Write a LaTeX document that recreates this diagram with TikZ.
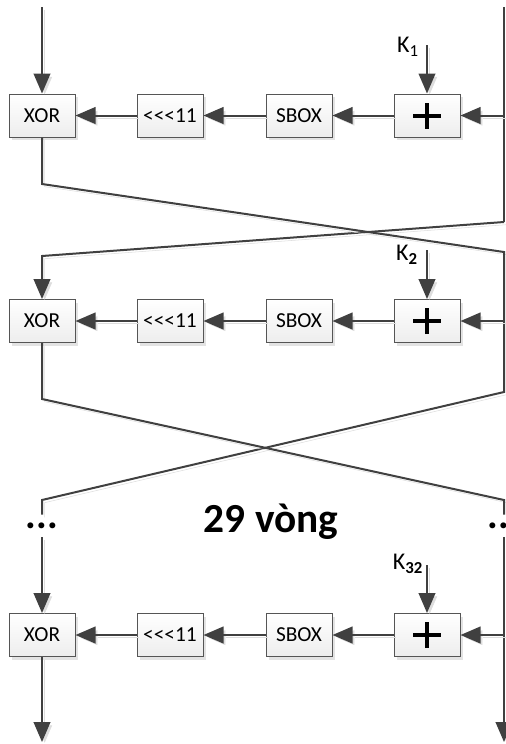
\documentclass[tikz,border=0pt]{standalone}
\usepackage{fontspec}
\setmainfont{Carlito}
\usetikzlibrary{arrows.meta,shadows}
\definecolor{ln}{HTML}{404040}
\definecolor{bd}{HTML}{555555}
\definecolor{sh}{HTML}{DDDDDD}
\begin{document}
\begin{tikzpicture}[x=0.75pt,y=-0.75pt,
  wire/.style={draw=ln, line width=1.5pt,
    preaction={draw=sh, transform canvas={xshift=2pt,yshift=-2pt}}},
  arr/.style={wire, -{Triangle[length=15pt,width=12.5pt]}},
  blk/.style={draw=bd, line width=0.75pt, top color=white, bottom color=gray!14,
    minimum width=49.5pt, minimum height=32.25pt, inner sep=0pt,
    font=\fontsize{16}{19}\selectfont,
    drop shadow={shadow xshift=2.5pt, shadow yshift=-2.5pt, fill=gray!22, opacity=1}},
  plusbox/.style={blk, path picture={
    \draw[line width=3pt, black] ([xshift=-10.5pt]path picture bounding box.center) -- ([xshift=10.5pt]path picture bounding box.center);
    \draw[line width=3pt, black] ([yshift=-9.75pt]path picture bounding box.center) -- ([yshift=9.75pt]path picture bounding box.center);}},
  klab/.style={font=\fontsize{18}{20}\selectfont, inner sep=0pt},
  dotsn/.style={font=\fontsize{30}{32}\selectfont\bfseries, inner sep=0pt, minimum height=16.5pt}]
\useasboundingbox (0,0) rectangle (506,744);

% row 1
\node[blk] (x1) at (42,115.5) {XOR};
\node[blk] (r1) at (170,115.5) {<{}<{}<11};
\node[blk] (s1) at (299,115.5) {SBOX};
\node[plusbox] (p1) at (427,115.5) {};
% row 2
\node[blk] (x2) at (42,321) {XOR};
\node[blk] (r2) at (170,321) {<{}<{}<11};
\node[blk] (s2) at (299,321) {SBOX};
\node[plusbox] (p2) at (427,321) {};
% row 3
\node[blk] (x3) at (42,635) {XOR};
\node[blk] (r3) at (170,635) {<{}<{}<11};
\node[blk] (s3) at (299,635) {SBOX};
\node[plusbox] (p3) at (427,635) {};

% key labels
\node[klab] (k1) at (408,47) {K\textsubscript{1}};
\node[klab] (k2) at (407,255) {K\textsubscript{\textbf{2}}};
\node[klab] (k3) at (408,564) {K\textsubscript{\textbf{32}}};
\coordinate (k1s) at (427,45);
\coordinate (k2s) at (427,250);
\coordinate (k3s) at (427,565);

% dots and text
\node[dotsn] (dl) at (42,526) {...};
\node[dotsn] (dr) at (504,526) {...};
\node[font=\fontsize{31}{36}\selectfont\bfseries, anchor=base] (t) at (271,532) {29 vòng};

% coordinates of wires
\coordinate (inL) at (42,7);
\coordinate (inR) at (504,7);
\coordinate (a1) at (42,184);
\coordinate (b1) at (504,252);
\coordinate (c1) at (504,222);
\coordinate (d1) at (42,256);
\coordinate (e1) at (504,115.5);
\coordinate (a2) at (42,399);
\coordinate (b2) at (504,500);
\coordinate (c2) at (504,392);
\coordinate (d2) at (42,500);
\coordinate (e2) at (504,321);
\coordinate (e3) at (504,635);
\coordinate (outL) at (42,742);
\coordinate (outR) at (504,742);

% row 1 flow
\draw[arr] (inL) -- (x1);
\draw[wire] (inR) -- (c1);
\draw[arr] (c1) -- (d1) -- (x2);
\draw[arr] (e1) -- (p1);
\draw[arr] (k1s) -- (p1);
\draw[arr] (p1) -- (s1);
\draw[arr] (s1) -- (r1);
\draw[arr] (r1) -- (x1);
\draw[wire] (x1) -- (a1) -- (b1) -- (c2) -- (d2) -- (dl);
% row 2 flow
\draw[arr] (e2) -- (p2);
\draw[arr] (k2s) -- (p2);
\draw[arr] (p2) -- (s2);
\draw[arr] (s2) -- (r2);
\draw[arr] (r2) -- (x2);
\draw[wire] (x2) -- (a2) -- (b2) -- (dr);
% row 3 flow
\draw[arr] (dl) -- (x3);
\draw[arr] (dr) -- (outR);
\draw[arr] (e3) -- (p3);
\draw[arr] (k3s) -- (p3);
\draw[arr] (p3) -- (s3);
\draw[arr] (s3) -- (r3);
\draw[arr] (r3) -- (x3);
\draw[arr] (x3) -- (outL);
\end{tikzpicture}
\end{document}
